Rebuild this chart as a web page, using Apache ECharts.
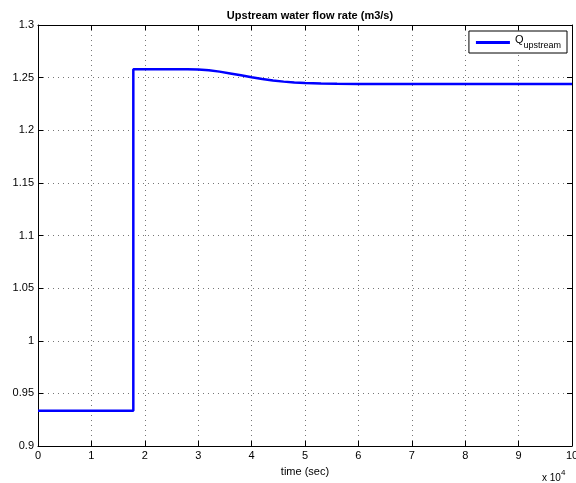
<!DOCTYPE html>
<html>
<head>
	<meta http-equiv="Content-Type" content="text/html;charset=utf-8">
	<title>Upstream water flow rate</title>
	<style>
		html, body { margin: 0; padding: 0; background: #fff; }
		#chart { width: 576px; height: 483px; }
	</style>
</head>
<body>
<div id="chart"></div>
<script src="https://cdn.jsdelivr.net/npm/echarts@6/dist/echarts.min.js"></script>
<script>
	// time (sec) and Q upstream (m3/s)
	var timeSec = [0, 17850, 17850, 28000, 30000, 32000, 34000, 36000, 38000, 40000,
		42000, 44000, 46000, 48000, 50000, 53000, 56000, 60000, 100000];
	var qUpstream = [0.9335, 0.9335, 1.258, 1.258, 1.2578, 1.2570, 1.2557, 1.2540, 1.2522, 1.2503,
		1.2487, 1.2473, 1.2462, 1.2454, 1.2449, 1.2445, 1.2442, 1.2440, 1.2440];
	var xTicks = [0, 1, 2, 3, 4, 5, 6, 7, 8, 9, 10];   // x 10^4
	var yTicks = [0.9, 0.95, 1, 1.05, 1.1, 1.15, 1.2, 1.25, 1.3];

	var font = 'Liberation Sans, Arial, sans-serif';
	var pts = timeSec.map(function (t, i) { return [t, qUpstream[i]]; });

	var gridLine = { show: true, lineStyle: { color: '#777', type: [1, 4], width: 1 } };
	var tick = { show: true, inside: true, length: 5, lineStyle: { color: '#000' } };
	var axLine = { show: true, onZero: false, lineStyle: { color: '#000', width: 1 } };

	var option = {
		animation: false,
		backgroundColor: '#fff',
		title: {
			text: 'Upstream water flow rate (m3/s)',
			left: 305, top: 5, textAlign: 'center',
			textStyle: { fontFamily: font, fontSize: 11, fontWeight: 'bold', color: '#000' }
		},
		grid: { left: 38, right: 4, top: 25, bottom: 37, outerBoundsMode: 'none', containLabel: false },
		legend: {
			data: ['Q'],
			right: 9, top: 31,
			orient: 'vertical',
			backgroundColor: '#fff',
			borderColor: '#000', borderWidth: 1, borderRadius: 0,
			padding: [3, 6, 3, 7],
			icon: 'rect', itemWidth: 34, itemHeight: 3, itemGap: 0,
			formatter: function () { return '{q|Q}{s|upstream}'; },
			textStyle: {
				fontFamily: font, color: '#000',
				rich: {
					q: { fontSize: 11, fontFamily: font, padding: [0, 0, 6, 0] },
					s: { fontSize: 9, fontFamily: font, padding: [6, 0, 0, 0] }
				}
			}
		},
		xAxis: [{
			type: 'value', min: 0, max: 100000, interval: 10000,
			position: 'bottom',
			name: 'time (sec)', nameLocation: 'middle', nameGap: 20,
			nameTextStyle: { fontFamily: font, fontSize: 11, color: '#000' },
			axisLine: axLine, axisTick: tick, splitLine: gridLine,
			axisLabel: {
				fontFamily: font, fontSize: 11, color: '#000', margin: 4,
				formatter: function (v) { return xTicks[Math.round(v / 10000)] + ''; }
			}
		}, {
			type: 'value', min: 0, max: 100000, interval: 10000,
			position: 'top',
			axisLine: axLine, axisTick: tick, splitLine: { show: false },
			axisLabel: { show: false }
		}],
		yAxis: [{
			type: 'value', min: 0.9, max: 1.3, interval: 0.05,
			position: 'left',
			axisLine: axLine, axisTick: tick, splitLine: gridLine,
			axisLabel: {
				fontFamily: font, fontSize: 11, color: '#000', margin: 4,
				formatter: function (v) { return String(parseFloat(v.toFixed(2))); }
			}
		}, {
			type: 'value', min: 0.9, max: 1.3, interval: 0.05,
			position: 'right',
			axisLine: axLine, axisTick: tick, splitLine: { show: false },
			axisLabel: { show: false }
		}],
		graphic: [{
			type: 'text',
			left: 542, top: 469,
			style: {
				text: '{a|x 10}{b|4}',
				fill: '#000',
				rich: {
					a: { fontFamily: font, fontSize: 10, padding: [5, 0, 0, 0] },
					b: { fontFamily: font, fontSize: 8, padding: [0, 0, 6, 0] }
				}
			}
		}],
		series: [{
			name: 'Q',
			type: 'line',
			data: pts,
			showSymbol: false,
			smooth: false,
			lineStyle: { color: '#0000ff', width: 2.5 },
			itemStyle: { color: '#0000ff' }
		}]
	};

	var myChart = echarts.init(document.getElementById('chart'));
	myChart.setOption(option);
</script>
</body>
</html>
